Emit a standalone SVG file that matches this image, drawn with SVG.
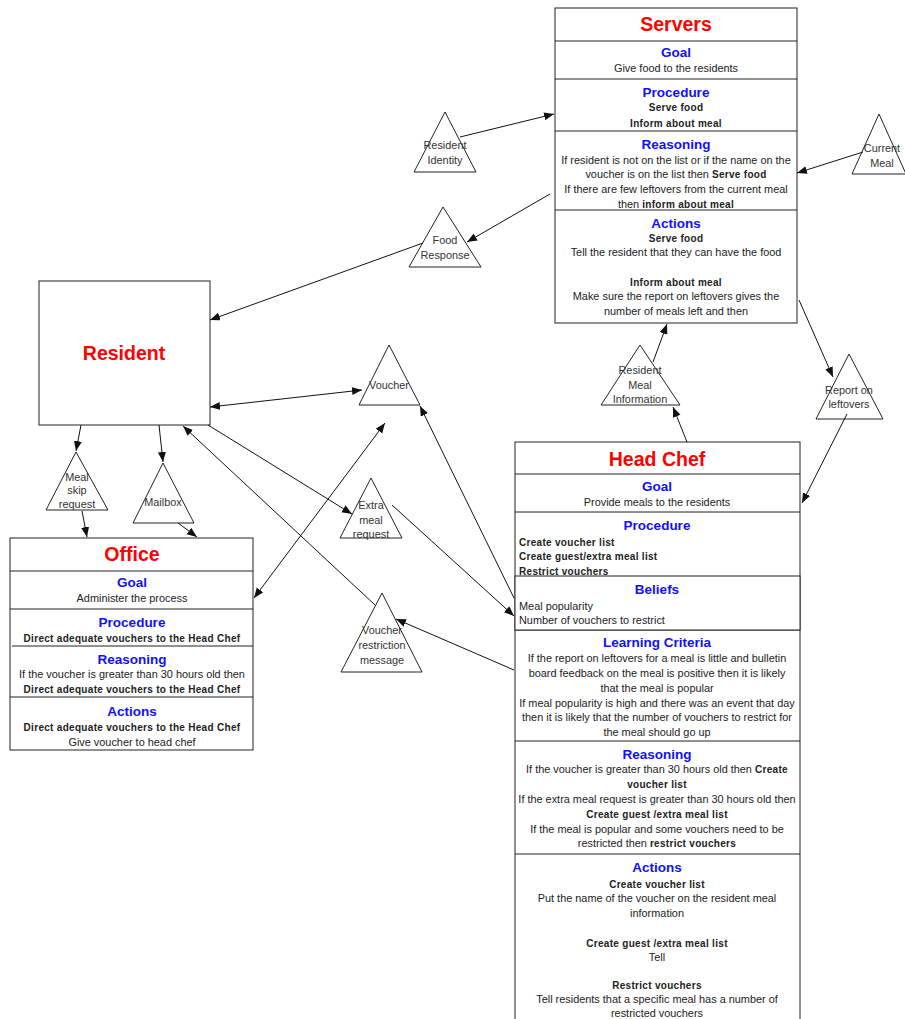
<svg xmlns="http://www.w3.org/2000/svg" width="905" height="1019" viewBox="0 0 905 1019">
<style>
text{font-family:"Liberation Sans",Arial,sans-serif;fill:#222;font-size:10.9px}
.c{text-anchor:middle}
.t{font-size:19.5px;font-weight:bold;fill:#ff0000}
.h{font-size:13.5px;font-weight:bold;fill:#1010ff}
.b{font-weight:bold;letter-spacing:0.3px;font-size:10px}
.box{fill:#fff;stroke:#222;stroke-width:1}
.div{stroke:#222;stroke-width:1}
.tri{fill:#fff;stroke:#222;stroke-width:1}
.tl{fill:#333}
.conn line{stroke:#111;stroke-width:1}
</style>
<defs>
<marker id="ah" markerUnits="userSpaceOnUse" markerWidth="11" markerHeight="9" refX="10" refY="4" orient="auto-start-reverse"><path d="M0,0 L10,4 L0,8 z" fill="#111"/></marker>
</defs>

<g id="servers">
<rect class="box" x="555" y="8" width="242" height="315"/>
<line class="div" x1="555" y1="41" x2="797" y2="41"/>
<line class="div" x1="555" y1="79" x2="797" y2="79"/>
<line class="div" x1="555" y1="131" x2="797" y2="131"/>
<line class="div" x1="555" y1="210" x2="797" y2="210"/>
<text class="c t" x="676" y="31">Servers</text>
<text class="c h" x="676" y="57">Goal</text>
<text class="c" x="676" y="72">Give food to the residents</text>
<text class="c h" x="676" y="97">Procedure</text>
<text class="c b" x="676" y="111">Serve food</text>
<text class="c b" x="676" y="127">Inform about meal</text>
<text class="c h" x="676" y="149">Reasoning</text>
<text class="c" x="676" y="164">If resident is not on the list or if the name on the</text>
<text class="c" x="676" y="178">voucher is on the list then <tspan class="b">Serve food</tspan></text>
<text class="c" x="676" y="193">If there are few leftovers from the current meal</text>
<text class="c" x="676" y="208">then <tspan class="b">inform about meal</tspan></text>
<text class="c h" x="676" y="228">Actions</text>
<text class="c b" x="676" y="242">Serve food</text>
<text class="c" x="676" y="256">Tell the resident that they can have the food</text>
<text class="c b" x="676" y="286">Inform about meal</text>
<text class="c" x="676" y="300">Make sure the report on leftovers gives the</text>
<text class="c" x="676" y="315">number of meals left and then</text>
</g>

<g id="resident">
<rect class="box" x="39" y="281" width="171" height="144"/>
<text class="c t" x="124" y="360">Resident</text>
</g>

<g id="office">
<rect class="box" x="10" y="538" width="243" height="212"/>
<line class="div" x1="10" y1="571" x2="253" y2="571"/>
<line class="div" x1="10" y1="609" x2="253" y2="609"/>
<line class="div" x1="12" y1="646" x2="253" y2="646"/>
<line class="div" x1="10" y1="697" x2="253" y2="697"/>
<text class="c t" x="132" y="561">Office</text>
<text class="c h" x="132" y="587">Goal</text>
<text class="c" x="132" y="602">Administer the process</text>
<text class="c h" x="132" y="627">Procedure</text>
<text class="c b" x="132" y="642">Direct adequate vouchers to the Head Chef</text>
<text class="c h" x="132" y="664">Reasoning</text>
<text class="c" x="132" y="678">If the voucher is greater than 30 hours old then</text>
<text class="c b" x="132" y="693">Direct adequate vouchers to the Head Chef</text>
<text class="c h" x="132" y="716">Actions</text>
<text class="c b" x="132" y="731">Direct adequate vouchers to the Head Chef</text>
<text class="c" x="132" y="746">Give voucher to head chef</text>
</g>

<g id="head-chef">
<rect class="box" x="515" y="442" width="285" height="590"/>
<line class="div" x1="515" y1="474" x2="800" y2="474"/>
<line class="div" x1="515" y1="512" x2="800" y2="512"/>
<line class="div" x1="515" y1="630" x2="800" y2="630"/>
<line class="div" x1="515" y1="741" x2="800" y2="741"/>
<line class="div" x1="515" y1="854" x2="800" y2="854"/>
<text class="c t" x="657" y="466">Head Chef</text>
<text class="c h" x="657" y="491">Goal</text>
<text class="c" x="657" y="506">Provide meals to the residents</text>
<text class="c h" x="657" y="530">Procedure</text>
<text class="b" x="519" y="546">Create voucher list</text>
<text class="b" x="519" y="560">Create guest/extra meal list</text>
<text class="b" x="519" y="575">Restrict vouchers</text>
<rect x="515" y="576" width="285" height="54" fill="#fff" stroke="#222"/>
<text class="c h" x="657" y="594">Beliefs</text>
<text x="519" y="610">Meal popularity</text>
<text x="519" y="624">Number of vouchers to restrict</text>
<text class="c h" x="657" y="647">Learning Criteria</text>
<text class="c" x="657" y="662">If the report on leftovers for a meal is little and bulletin</text>
<text class="c" x="657" y="677">board feedback on the meal is positive then it is likely</text>
<text class="c" x="657" y="692">that the meal is popular</text>
<text class="c" x="657" y="707">If meal popularity is high and there was an event that day</text>
<text class="c" x="657" y="721">then it is likely that the number of vouchers to restrict for</text>
<text class="c" x="657" y="736">the meal should go up</text>
<text class="c h" x="657" y="759">Reasoning</text>
<text class="c" x="657" y="773">If the voucher is greater than 30 hours old then <tspan class="b">Create</tspan></text>
<text class="c b" x="657" y="788">voucher list</text>
<text class="c" x="657" y="803">If the extra meal request is greater than 30 hours old then</text>
<text class="c b" x="657" y="818">Create guest /extra meal list</text>
<text class="c" x="657" y="833">If the meal is popular and some vouchers need to be</text>
<text class="c" x="657" y="847">restricted then <tspan class="b">restrict vouchers</tspan></text>
<text class="c h" x="657" y="872">Actions</text>
<text class="c b" x="657" y="888">Create voucher list</text>
<text class="c" x="657" y="902">Put the name of the voucher on the resident meal</text>
<text class="c" x="657" y="917">information</text>
<text class="c b" x="657" y="947">Create guest /extra meal list</text>
<text class="c" x="657" y="961">Tell</text>
<text class="c b" x="657" y="989">Restrict vouchers</text>
<text class="c" x="657" y="1003">Tell residents that a specific meal has a number of</text>
<text class="c" x="657" y="1017">restricted vouchers</text>
</g>

<g id="resident-identity">
<polygon class="tri" points="445,112 414,172 476,172"/>
<text class="c tl" x="445" y="149">Resident</text>
<text class="c tl" x="445" y="164">Identity</text>
</g>
<g id="food-response">
<polygon class="tri" points="443,207 409,267 481,267"/>
<text class="c tl" x="445" y="244">Food</text>
<text class="c tl" x="445" y="259">Response</text>
</g>
<g id="current-meal">
<polygon class="tri" points="879,114 852,174 906,174"/>
<text class="c tl" x="882" y="152">Current</text>
<text class="c tl" x="882" y="167">Meal</text>
</g>
<g id="voucher">
<polygon class="tri" points="389,345 359,405 420,405"/>
<text class="c tl" x="389" y="389">Voucher</text>
</g>
<g id="extra-meal-request">
<polygon class="tri" points="371,478 340,538 402,538"/>
<text class="c tl" x="371" y="509">Extra</text>
<text class="c tl" x="371" y="524">meal</text>
<text class="c tl" x="371" y="538">request</text>
</g>
<g id="voucher-restriction-message">
<polygon class="tri" points="382,593 341,672 422,672"/>
<text class="c tl" x="382" y="634">Voucher</text>
<text class="c tl" x="382" y="649">restriction</text>
<text class="c tl" x="382" y="664">message</text>
</g>
<g id="meal-skip-request">
<polygon class="tri" points="76,452 46,510 108,510"/>
<text class="c tl" x="77" y="481">Meal</text>
<text class="c tl" x="77" y="494">skip</text>
<text class="c tl" x="77" y="508">request</text>
</g>
<g id="mailbox">
<polygon class="tri" points="163,463 133,523 194,523"/>
<text class="c tl" x="163" y="506">Mailbox</text>
</g>
<g id="resident-meal-information">
<polygon class="tri" points="640,345 601,405 680,405"/>
<text class="c tl" x="640" y="374">Resident</text>
<text class="c tl" x="640" y="389">Meal</text>
<text class="c tl" x="640" y="403">Information</text>
</g>
<g id="report-on-leftovers">
<polygon class="tri" points="849,354 816,419 883,419"/>
<text class="c tl" x="849" y="394">Report on</text>
<text class="c tl" x="849" y="408">leftovers</text>
</g>

<g id="connectors" class="conn">
<line x1="460" y1="137" x2="554" y2="114" marker-end="url(#ah)"/>
<line x1="550" y1="194" x2="467" y2="242" marker-end="url(#ah)"/>
<line x1="423" y1="243" x2="210" y2="320" marker-end="url(#ah)"/>
<line x1="863" y1="152" x2="797" y2="173" marker-end="url(#ah)"/>
<line x1="210" y1="407" x2="362" y2="390" marker-start="url(#ah)" marker-end="url(#ah)"/>
<line x1="514" y1="598" x2="420" y2="406" marker-end="url(#ah)"/>
<line x1="254" y1="598" x2="385" y2="423" marker-start="url(#ah)" marker-end="url(#ah)"/>
<line x1="208" y1="425" x2="352" y2="514" marker-end="url(#ah)"/>
<line x1="392" y1="505" x2="514" y2="616" marker-end="url(#ah)"/>
<line x1="375" y1="605" x2="183" y2="426" marker-end="url(#ah)"/>
<line x1="514" y1="670" x2="396" y2="619" marker-end="url(#ah)"/>
<line x1="81" y1="425" x2="76" y2="451" marker-end="url(#ah)"/>
<line x1="82" y1="511" x2="87" y2="537" marker-end="url(#ah)"/>
<line x1="159" y1="425" x2="163" y2="462" marker-end="url(#ah)"/>
<line x1="178" y1="523" x2="197" y2="537" marker-end="url(#ah)"/>
<line x1="687" y1="442" x2="673" y2="407" marker-end="url(#ah)"/>
<line x1="653" y1="362" x2="667" y2="324" marker-end="url(#ah)"/>
<line x1="799" y1="300" x2="833" y2="377" marker-end="url(#ah)"/>
<line x1="847" y1="414" x2="802" y2="503" marker-end="url(#ah)"/>
</g>
</svg>
